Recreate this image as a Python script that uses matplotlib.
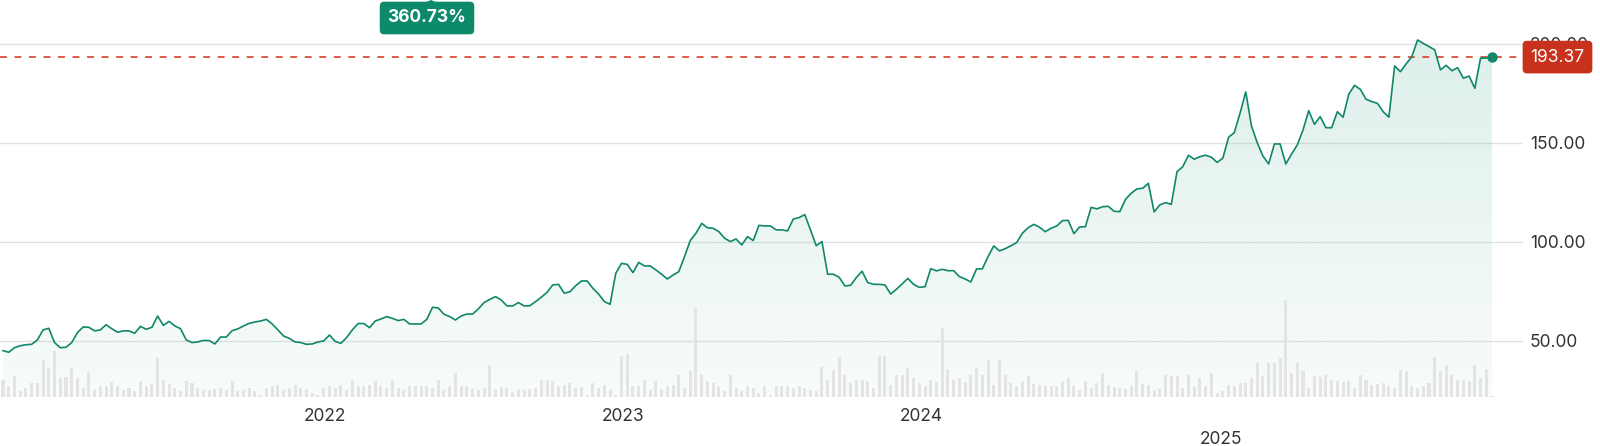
import numpy as np
import pandas as pd
import matplotlib
matplotlib.use("Agg")
import matplotlib.pyplot as plt
import matplotlib.dates as mdates
import matplotlib.transforms as mtransforms
from matplotlib.colors import to_rgb
from matplotlib.patches import Polygon

# weekly closing prices
close = [
    45.1, 44.3, 46.6, 47.6, 48.1, 48.3, 50.5, 55.6, 56.4, 49.2,
    46.6, 46.8, 49.2, 54.2, 57.1, 56.9, 55.1, 55.6, 58.2, 56.2,
    54.4, 55.1, 55.1, 53.9, 57.4, 55.9, 56.9, 62.6, 57.9, 59.9,
    57.6, 56.2, 50.5, 49.2, 49.5, 50.3, 50.2, 48.5, 52.0, 52.0,
    55.2, 56.1, 57.6, 58.9, 59.6, 60.1, 60.9, 58.6, 55.6,
    52.5, 51.3, 49.5, 49.2, 48.3, 48.5, 49.5, 50.0, 53.0, 49.8,
    48.8, 51.7, 55.6, 58.8, 58.8, 56.7, 60.1, 61.1, 62.3,
    61.4, 60.3, 60.9, 58.6, 58.6, 58.6, 60.9, 67.0, 66.7, 63.5,
    62.3, 60.6, 62.6, 63.6, 63.6, 66.2, 69.4, 71.0, 72.4, 70.7,
    67.7, 67.7, 69.4, 67.7, 67.8, 69.9, 72.1, 74.6, 78.3, 78.6,
    74.1, 74.9, 77.9, 80.3, 80.3, 76.6,
    73.7, 69.9, 68.5, 84.2, 89.2, 88.7, 84.5, 89.7, 87.9, 87.9,
    85.9, 83.7, 81.3, 83.3, 85.0, 92.6, 100.7, 104.4, 109.4, 107.2,
    106.9, 105.2, 101.9, 100.2, 101.5, 98.5, 102.7, 100.7, 108.4, 108.1,
    108.1, 106.1, 106.1, 105.6, 111.6, 112.3, 113.8, 106.1, 98.1, 100.2,
    83.7, 83.7, 82.2, 77.8, 78.1, 82.0, 85.2, 79.5, 78.6, 78.6,
    78.3, 73.7, 76.1, 78.8, 81.6, 78.6, 77.1, 77.4, 86.5, 85.4, 86.2,
    85.5, 85.5, 82.5, 81.3, 79.8, 86.4, 86.4, 92.6, 98.0, 95.5,
    96.6, 98.1, 99.7, 104.4, 107.2, 108.9, 107.4, 105.2, 106.9, 108.1,
    110.8, 110.9, 104.2, 107.6, 107.7, 117.5, 116.7, 117.8, 118.0, 115.5,
    115.3, 121.5, 124.6, 126.8, 127.1, 129.6, 115.2, 118.7, 119.9, 119.0,
    135.5, 138.0, 143.8, 141.8, 143.1, 143.8, 142.8, 140.2, 142.3, 152.9,
    155.2, 165.0, 175.8, 158.6, 150.2, 143.4, 139.4, 149.5, 149.5, 139.4,
    144.4, 149.0, 156.6, 166.3, 159.4, 163.3, 157.7, 157.7, 165.8, 163.0,
    174.7, 179.1, 177.1, 172.1, 170.9, 170.0, 165.8, 163.0, 188.9, 186.0,
    189.9, 193.6, 202.0, 200.3, 198.7, 197.0, 186.9, 189.2, 186.5, 188.0,
    182.7, 183.8, 177.6, 192.8, 192.9, 193.37,
]

# weekly volume (relative units)
volume = [
    17, 11, 21, 6, 9, 14, 14, 37, 29, 46, 19, 20, 29, 19, 9, 25, 7, 11, 11, 15,
    11, 7, 9, 6, 16, 11, 13, 39, 17, 13, 9, 6, 16, 14, 9, 7, 7, 8, 9, 7,
    16, 6, 7, 9, 6, 2, 9, 11, 12, 7, 9, 12, 9, 8, 4, 2, 9, 11, 9, 12,
    7, 17, 11, 11, 12, 16, 11, 9, 17,
    9, 7, 11, 11, 11, 11, 9, 17, 7, 11, 24, 11, 11, 8, 7, 9, 32, 8, 10, 9,
    5, 7, 7, 8, 9, 17, 17, 16, 11, 12, 14, 9, 10, 2, 14, 9, 12, 7, 2, 41,
    43, 11, 11, 17, 7, 16, 8, 11, 12, 22, 9, 26, 89, 23, 16, 14, 11, 6, 22, 9,
    6, 11, 9, 4, 11, 2, 11, 11, 11, 9, 11,
    9, 7, 6, 30, 17, 27, 40, 22, 14, 17, 17, 16, 9, 41, 41, 12, 22, 22, 29, 19,
    14, 11, 17, 15, 69, 27, 17, 19, 15, 22, 29, 22, 37, 12, 37, 22, 14, 11, 15, 21,
    13, 12, 11, 11, 11, 16, 19, 11, 7, 16, 9, 14, 24, 12, 10, 9, 8, 11, 26, 13,
    12, 7, 8, 22, 21, 21, 9, 22, 10, 19, 11,
    24, 4, 6, 12, 11, 14, 14, 19, 34, 21, 34, 34, 39, 97, 24, 34, 26, 9, 21, 20,
    22, 17, 16, 15, 16, 9, 22, 17, 12, 13, 14, 11, 9, 27, 26, 11, 9, 11, 14, 40,
    26, 32, 22, 17, 17, 16, 32, 19, 28, 1,
]

start_date = "2020-12-04"
years = ["2022", "2023", "2024", "2025"]
grid_levels = [50, 100, 150, 200]
last_price = 193.37
total_return = "360.73%"

line_color = "#10876a"
dates = pd.date_range(start_date, periods=len(close), freq="7D")
xnum = mdates.date2num(dates)

plt.rcParams["font.family"] = ["Inter", "DejaVu Sans"]

fig = plt.figure(figsize=(16, 4.46), dpi=100)
ax = fig.add_axes([0, 49 / 446, 1523 / 1600, 397 / 446])

px_per_day = 1489 / (xnum[-1] - xnum[0])
xmin = xnum[0] - 3 / px_per_day
xmax = xmin + 1523 / px_per_day
ymin, ymax = 21.7, 222.2

# volume bars on a twin axis (created first, tick side fixed afterwards)
axv = ax.twinx()
axv.bar(xnum, volume, width=3.7, color="#e4e4e4", lw=0)
axv.set_ylim(0, 397)
axv.set_xlim(xmin, xmax)
axv.axis("off")

# gradient fill under the line
poly = ax.fill_between(xnum, close, ymin, color="none", lw=0)
grad = np.zeros((256, 1, 4))
grad[..., :3] = to_rgb("#2a9d7f")
grad[..., 3] = np.linspace(0.035, 0.17, 256)[:, None]
img = ax.imshow(grad, extent=[xmin, xmax, ymin, ymax], origin="lower",
                aspect="auto", zorder=1, interpolation="bilinear")
img.set_clip_path(poly.get_paths()[0], transform=ax.transData)

ax.plot(xnum, close, color=line_color, lw=1.2, zorder=4)
ax.plot(xnum[-1], close[-1], "o", ms=6.5, color=line_color, zorder=6, clip_on=False)

ax.axhline(last_price, color="#cf3216", lw=1.1, ls=(0, (4.5, 5)), zorder=3)

ax.set_xlim(xmin, xmax)
ax.set_ylim(ymin, ymax)
ax.set_yticks(grid_levels)
ax.set_yticklabels([f"{v:.2f}" for v in grid_levels])
ax.yaxis.tick_right()
ax.yaxis.grid(True, color="#e2e2e2", lw=1)
ax.set_axisbelow(True)
ax.tick_params(axis="y", length=0, pad=5, labelsize=12.5, labelcolor="#333333")
ax.set_xticks([])
for s in ax.spines.values():
    s.set_visible(False)

# year labels
trans = mtransforms.blended_transform_factory(ax.transData, ax.transAxes)
for yr in years:
    ypos = -0.108 if yr == "2025" else -0.048
    ax.text(mdates.date2num(pd.Timestamp(f"{yr}-01-01")), ypos, yr, transform=trans,
            ha="center", va="center", fontsize=12.5, color="#333333")

# last price tag (covers the 200.00 label like the original)
axv.annotate(f"{last_price:.2f}", xy=(1, (last_price - ymin) / (ymax - ymin)),
             xycoords="axes fraction", xytext=(34.5, 0), textcoords="offset pixels",
             ha="center", va="center", color="white", fontsize=12.5, zorder=10,
             annotation_clip=False,
             bbox=dict(boxstyle="round,pad=0.45,rounding_size=0.25", fc="#c8311b", ec="none"))

# return badge
fig.text(427 / 1600, 1 - 18 / 446, total_return, ha="center", va="center",
         color="white", weight="bold", fontsize=12.5,
         bbox=dict(boxstyle="round,pad=0.45,rounding_size=0.25", fc="#0c8a6a", ec="none"))
fig.patches.append(Polygon([(424 / 1600, 1 - 3 / 446), (431 / 1600, 1.0), (438 / 1600, 1 - 3 / 446)],
                           closed=True, fc="#0c8a6a", ec="none", transform=fig.transFigure))

fig.savefig("out.png", dpi=100)
